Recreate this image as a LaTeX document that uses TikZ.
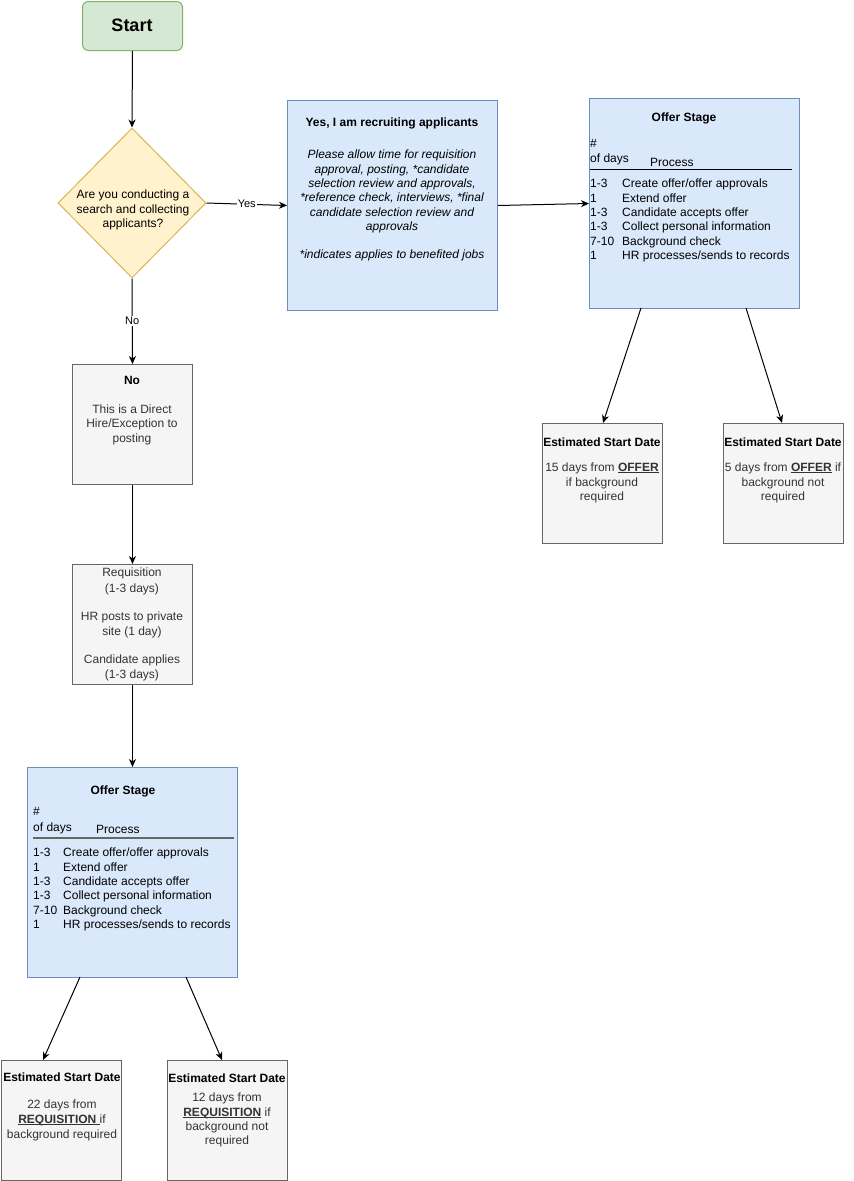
\documentclass[tikz,border=0pt]{standalone}
\usepackage{fontspec}
\setmainfont{Liberation Sans}
\usetikzlibrary{shapes.geometric,arrows.meta}
\definecolor{greenF}{HTML}{D5E8D4}
\definecolor{greenD}{HTML}{82B366}
\definecolor{yellowF}{HTML}{FFF2CC}
\definecolor{yellowD}{HTML}{D6B656}
\definecolor{blueF}{HTML}{DAE8FC}
\definecolor{blueD}{HTML}{6C8EBF}
\definecolor{grayF}{HTML}{F5F5F5}
\definecolor{grayD}{HTML}{666666}
\definecolor{grayT}{HTML}{333333}
\newcommand\myul[1]{\setbox0\hbox{\textbf{#1}}\rlap{\rule[-1.6pt]{\wd0}{0.9pt}}\box0\relax}
\begin{document}
\begin{tikzpicture}[x=1pt,y=-1pt,
  box/.style={draw, line width=1pt, inner sep=0pt, anchor=north west},
  bluebox/.style={box, fill=blueF, draw=blueD},
  graybox/.style={box, fill=grayF, draw=grayD},
  txt/.style={anchor=base, inner sep=0pt, font=\fontsize{12}{14}\selectfont},
  txtw/.style={txt, anchor=base west},
  gtxt/.style={txt, text=grayT},
  arr/.style={-{Stealth[length=8pt,width=7pt,inset=2.5pt]}, line width=1pt},
  lbl/.style={fill=white, inner sep=1pt, font=\fontsize{11}{13}\selectfont}]
\useasboundingbox (0,0) rectangle (854,1181);

% Start
\node[box, draw=greenD, fill=greenF, rounded corners=6pt, minimum width=100pt, minimum height=49pt] (start) at (82,1) {};
\node[anchor=base, inner sep=0pt, font=\fontsize{18}{20}\selectfont\bfseries] (starttxt) at (132,31.5) {Start};

% Decision
\node[diamond, draw=yellowD, fill=yellowF, line width=1pt, minimum width=148pt, minimum height=150pt, inner sep=0pt] (dec) at (132,203) {};
\node[txt] (d1) at (133,198) {Are you conducting a};
\node[txt] (d2) at (133,213) {search and collecting};
\node[txt] (d3) at (133,227) {applicants?};

% Yes box
\node[bluebox, minimum width=210pt, minimum height=210pt] (yes) at (287,100) {};
\node[txt, font=\fontsize{12}{14}\selectfont\bfseries] (yt) at (392,126) {Yes, I am recruiting applicants};
\node[txt, font=\fontsize{12}{14}\selectfont\itshape] (y1) at (392,158) {Please allow time for requisition};
\node[txt, font=\fontsize{12}{14}\selectfont\itshape] (y2) at (392,173) {approval, posting, *candidate};
\node[txt, font=\fontsize{12}{14}\selectfont\itshape] (y3) at (392,187) {selection review and approvals,};
\node[txt, font=\fontsize{12}{14}\selectfont\itshape] (y4) at (392,201) {*reference check, interviews, *final};
\node[txt, font=\fontsize{12}{14}\selectfont\itshape] (y5) at (392,216) {candidate selection review and};
\node[txt, font=\fontsize{12}{14}\selectfont\itshape] (y6) at (392,230) {approvals};
\node[txt, font=\fontsize{12}{14}\selectfont\itshape] (y7) at (392,258) {*indicates applies to benefited jobs};

% Offer stage (top)
\node[bluebox, minimum width=210pt, minimum height=210pt] (offA) at (589,98) {};
\node[txt, font=\fontsize{12}{14}\selectfont\bfseries] (oAt) at (684,121) {Offer Stage};
\node[txtw] (oAh1) at (590,147) {\#};
\node[txtw] (oAh2) at (590,162) {of days};
\node[txtw] (oAh3) at (650,166) {Process};
\coordinate (oAl1) at (590,169);
\coordinate (oAl2) at (792,169);
\draw[line width=1pt] (oAl1) -- (oAl2);
\node[txtw] (oAa1) at (590,187) {1-3};
\node[txtw] (oAb1) at (622,187) {Create offer/offer approvals};
\node[txtw] (oAa2) at (590,202) {1};
\node[txtw] (oAb2) at (622,202) {Extend offer};
\node[txtw] (oAa3) at (590,216) {1-3};
\node[txtw] (oAb3) at (622,216) {Candidate accepts offer};
\node[txtw] (oAa4) at (590,230) {1-3};
\node[txtw] (oAb4) at (622,230) {Collect personal information};
\node[txtw] (oAa5) at (590,245) {7-10};
\node[txtw] (oAb5) at (622,245) {Background check};
\node[txtw] (oAa6) at (590,259) {1};
\node[txtw] (oAb6) at (622,259) {HR processes/sends to records};

% Estimated (top)
\node[graybox, minimum width=120pt, minimum height=120pt] (eA) at (542,423) {};
\node[gtxt, font=\fontsize{12}{14}\selectfont\bfseries, text=black] (eAt) at (602,446) {Estimated Start Date};
\node[gtxt] (eA1) at (602,471) {15 days from \myul{OFFER}};
\node[gtxt] (eA2) at (602,486) {if background};
\node[gtxt] (eA3) at (602,500) {required};

\node[graybox, minimum width=120pt, minimum height=120pt] (eB) at (723,423) {};
\node[gtxt, font=\fontsize{12}{14}\selectfont\bfseries, text=black] (eBt) at (783,446) {Estimated Start Date};
\node[gtxt] (eB1) at (783,471) {5 days from \myul{OFFER} if};
\node[gtxt] (eB2) at (783,486) {background not};
\node[gtxt] (eB3) at (783,500) {required};

% No box
\node[graybox, minimum width=120pt, minimum height=120pt] (nobox) at (72,364) {};
\node[gtxt, font=\fontsize{12}{14}\selectfont\bfseries, text=black] (nt) at (132,384) {No};
\node[gtxt] (n1) at (132,413) {This is a Direct};
\node[gtxt] (n2) at (132,427) {Hire/Exception to};
\node[gtxt] (n3) at (132,442) {posting};

% Requisition box
\node[graybox, minimum width=120pt, minimum height=120pt] (req) at (72,564) {};
\node[gtxt] (r1) at (132,576) {Requisition};
\node[gtxt] (r2) at (132,592) {(1-3 days)};
\node[gtxt] (r3) at (132,620) {HR posts to private};
\node[gtxt] (r4) at (132,635) {site (1 day)};
\node[gtxt] (r5) at (132,663) {Candidate applies};
\node[gtxt] (r6) at (132,678) {(1-3 days)};

% Offer stage (bottom)
\node[bluebox, minimum width=210pt, minimum height=210pt] (offB) at (27,767) {};
\node[txt, font=\fontsize{12}{14}\selectfont\bfseries] (oBt) at (123,794) {Offer Stage};
\node[txtw] (oBh1) at (33,815) {\#};
\node[txtw] (oBh2) at (33,831) {of days};
\node[txtw] (oBh3) at (96,833) {Process};
\coordinate (oBl1) at (33,838);
\coordinate (oBl2) at (234,838);
\draw[line width=2pt, draw=grayD] (oBl1) -- (oBl2);
\node[txtw] (oBa1) at (33,856) {1-3};
\node[txtw] (oBb1) at (63,856) {Create offer/offer approvals};
\node[txtw] (oBa2) at (33,871) {1};
\node[txtw] (oBb2) at (63,871) {Extend offer};
\node[txtw] (oBa3) at (33,885) {1-3};
\node[txtw] (oBb3) at (63,885) {Candidate accepts offer};
\node[txtw] (oBa4) at (33,899) {1-3};
\node[txtw] (oBb4) at (63,899) {Collect personal information};
\node[txtw] (oBa5) at (33,914) {7-10};
\node[txtw] (oBb5) at (63,914) {Background check};
\node[txtw] (oBa6) at (33,928) {1};
\node[txtw] (oBb6) at (63,928) {HR processes/sends to records};

% Estimated (bottom)
\node[graybox, minimum width=120pt, minimum height=120pt] (eC) at (1,1060) {};
\node[gtxt, font=\fontsize{12}{14}\selectfont\bfseries, text=black] (eCt) at (62,1081) {Estimated Start Date};
\node[gtxt] (eC1) at (62,1108) {22 days from};
\node[gtxt] (eC2) at (62,1123) {\myul{REQUISITION\ }if};
\node[gtxt] (eC3) at (62,1138) {background required};

\node[graybox, minimum width=120pt, minimum height=120pt] (eD) at (167,1060) {};
\node[gtxt, font=\fontsize{12}{14}\selectfont\bfseries, text=black] (eDt) at (227,1082) {Estimated Start Date};
\node[gtxt] (eD1) at (227,1101) {12 days from};
\node[gtxt] (eD2) at (227,1116) {\myul{REQUISITION} if};
\node[gtxt] (eD3) at (227,1130) {background not};
\node[gtxt] (eD4) at (227,1144) {required};

% Connectors
\draw[arr] (start.south) -- (dec.north);
\draw[arr] (dec.east) -- node[lbl] (yeslbl) {Yes} (yes.west);
\draw[arr] (dec.south) -- node[lbl] (nolbl) {No} (nobox.north);
\draw[arr] (yes.east) -- (offA.west);
\draw[arr] (nobox.south) -- (req.north);
\draw[arr] (req.south) -- (offB.north);
\coordinate (pA1) at (641,308);
\coordinate (qA1) at (603,423);
\coordinate (pA2) at (746,308);
\coordinate (qA2) at (782,423);
\draw[arr] (pA1) -- (qA1);
\draw[arr] (pA2) -- (qA2);
\coordinate (pB1) at (80,977);
\coordinate (qB1) at (43,1060);
\coordinate (pB2) at (186,977);
\coordinate (qB2) at (222,1060);
\draw[arr] (pB1) -- (qB1);
\draw[arr] (pB2) -- (qB2);
\end{tikzpicture}
\end{document}
